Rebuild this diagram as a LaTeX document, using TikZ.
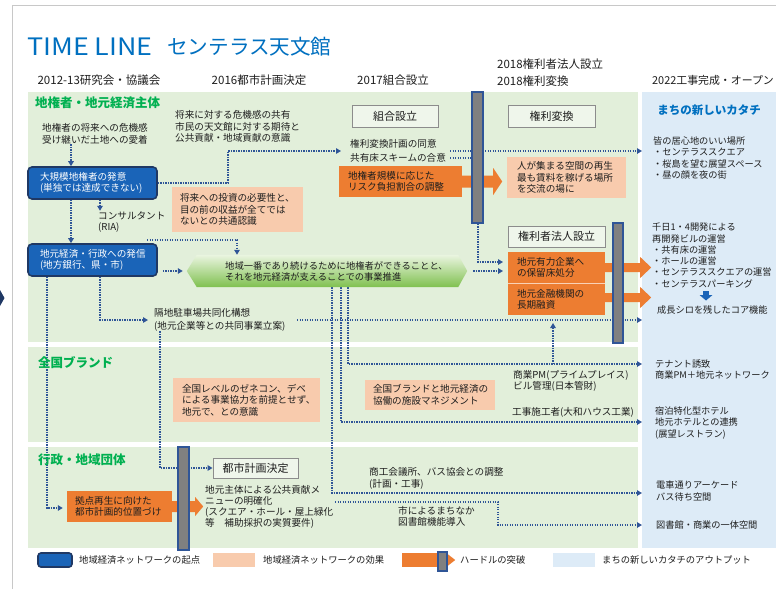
\documentclass[tikz,border=0pt]{standalone}
\usepackage{fontspec}
\setmainfont{Noto Sans CJK JP}
\usetikzlibrary{arrows.meta,calc}

\definecolor{titleblue}{HTML}{0070C0}
\definecolor{lblgreen}{HTML}{00B050}
\definecolor{bggreen}{HTML}{E2EFDA}
\definecolor{bgblue}{HTML}{DDEBF7}
\definecolor{salmon}{HTML}{F8CBAD}
\definecolor{orgC}{HTML}{ED7D31}
\definecolor{boxblue}{HTML}{1A64B8}
\definecolor{boxborder}{HTML}{1F3864}
\definecolor{dotblue}{HTML}{2F5597}
\definecolor{barfill}{HTML}{808080}
\definecolor{txtc}{HTML}{1E1E1E}
\definecolor{framegray}{HTML}{C8C8C8}
\definecolor{chevT}{HTML}{EAF5E0}
\definecolor{chevB}{HTML}{7FC04F}

\newcommand{\fsb}{\fontsize{9.6}{11.5}\selectfont}
\newcommand{\fsr}{\fontsize{9.2}{11.3}\selectfont}

\pgfdeclarelayer{back}
\pgfdeclarelayer{lines}
\pgfsetlayers{back,lines,main}

\begin{document}
\begin{tikzpicture}[x=1pt,y=-1pt,
  txt/.style={inner sep=0pt, anchor=west, align=left, font=\fsb, text=txtc},
  rtxt/.style={inner sep=0pt, anchor=west, align=left, font=\fsr, text=txtc},
  hdr/.style={inner sep=0pt, font=\fontsize{11.5}{17}\selectfont, text=txtc},
  bandlbl/.style={inner sep=0pt, anchor=west, font=\fontsize{12.5}{15}\selectfont\bfseries, text=lblgreen},
  bluebox/.style={draw=boxborder, line width=1.6pt, fill=boxblue, rounded corners=4pt, text=white, align=left, font=\fsb, inner ysep=0pt},
  salbox/.style={fill=salmon, align=left, font=\fsb, text=txtc, inner ysep=0pt},
  orgbox/.style={fill=orgC, align=left, font=\fsb, text=txtc, inner ysep=0pt},
  lblbox/.style={draw=gray!90, line width=0.9pt, fill=white!45!bggreen, font=\fontsize{11}{13}\selectfont, text=txtc, inner sep=0pt},
  hurdle/.style={draw=dotblue, line width=1.4pt, fill=barfill, inner sep=0pt},
  dotline/.style={draw=dotblue, line width=1.3pt, dash pattern=on 1.3pt off 1.2pt},
  dotarrow/.style={dotline, -{Triangle[length=5pt,width=5.5pt]}},
]
\useasboundingbox (0,0) rectangle (776,589);

\begin{pgfonlayer}{back}
\fill[white] (0,0) rectangle (776,589);
\draw[framegray, line width=1pt] (12.5,589) -- (12.5,5.5) -- (776,5.5);
\fill[bggreen] (28,92) rectangle (638,342);
\fill[bggreen] (28,347) rectangle (638,442);
\fill[bggreen] (28,447) rectangle (638,548);
\fill[bgblue] (642,92) rectangle (776,548);
\end{pgfonlayer}

\fill[boxborder] (0,290) -- (4.5,298) -- (0,306) -- cycle;

% title
\node[anchor=west, inner sep=0pt, text=titleblue, font=\fontsize{24}{26}\selectfont] (ttl1) at (27,47) {\scalebox{1.12}[1]{TIME LINE}};
\node[anchor=west, inner sep=0pt, text=titleblue, font=\fontsize{20.6}{24}\selectfont] (ttl2) at (167,47) {センテラス天文館};

% headers
\node[hdr] (h1) at (99,80) {2012-13研究会・協議会};
\node[hdr] (h2) at (259,80) {2016都市計画決定};
\node[hdr] (h3) at (393,80) {2017組合設立};
\node[hdr, anchor=west, align=left] (h4) at (497,72.5) {2018権利者法人設立\\2018権利変換};
\node[hdr, anchor=east, font=\fontsize{10.9}{13}\selectfont] (h5) at (774,80) {2022工事完成・オープン};

% band labels
\node[bandlbl] (L1) at (35,103) {地権者・地元経済主体};
\node[bandlbl] (L2) at (38,363) {全国ブランド};
\node[bandlbl] (L3) at (38,460) {行政・地域団体};
\node[inner sep=0pt, font=\fontsize{11.5}{14}\selectfont\bfseries, text=titleblue] (R0) at (709,110) {まちの新しいカタチ};

% chevron
\node[minimum width=261pt, minimum height=32pt, inner sep=0pt] (chev) at (327.5,271) {};
\path[top color=chevT, bottom color=chevB]
  ($(chev.west)+(-10,0)$) -- (chev.north west) -- (chev.north east) -- ($(chev.east)+(9,0)$) -- (chev.south east) -- (chev.south west) -- cycle;

% boxes
\node[bluebox, text width=105pt, inner xsep=12pt, minimum height=32pt] (b1) at (92.5,183) {大規模地権者の発意\\(単独では達成できない)};
\node[bluebox, text width=105pt, inner xsep=12pt, minimum height=32pt] (b2) at (92.5,260) {地元経済・行政への発信\\(地方銀行、県・市)};
\node[salbox, text width=115pt, inner xsep=8pt, minimum height=45pt] (s1) at (237.5,209.5) {将来への投資の必要性と、\\目の前の収益が全てでは\\ないとの共通認識};
\node[salbox, text width=99pt, inner xsep=10pt, minimum height=41pt] (s2) at (566.5,177.5) {人が集まる空間の再生\\最も賃料を稼げる場所\\を交流の場に};
\node[salbox, text width=129pt, inner xsep=9pt, minimum height=44pt] (s3) at (246.5,400) {全国レベルのゼネコン、デベ\\による事業協力を前提とせず、\\地元で、との意識};
\node[salbox, text width=114pt, inner xsep=8pt, minimum height=30pt] (s4) at (430,395) {全国ブランドと地元経済の\\協働の施設マネジメント};

\node[lblbox, minimum width=86pt, minimum height=22pt] (k1) at (395,116) {組合設立};
\node[lblbox, minimum width=87pt, minimum height=22pt] (k2) at (551.5,116) {権利変換};
\node[lblbox, minimum width=97pt, minimum height=21pt] (k3) at (556.5,236.5) {権利者法人設立};
\node[lblbox, minimum width=85pt, minimum height=20pt] (k4) at (255.5,468) {都市計画決定};

% text nodes
\node[txt] (t1) at (42,134) {地権者の将来への危機感\\受け継いだ土地への愛着};
\node[txt] (t2) at (175,126.5) {将来に対する危機感の共有\\市民の天文館に対する期待と\\公共貢献・地域貢献の意識};
\node[txt] (cons) at (98,222) {コンサルタント\\(RIA)};
\node[txt, font=\fontsize{9.6}{14}\selectfont] (t3) at (350,151) {権利変換計画の同意\\共有床スキームの合意};
\node[txt, font=\fontsize{9.3}{11}\selectfont] (chevt) at (225,271) {地域一番であり続けるために地権者ができることと、\\それを地元経済が支えることでの事業推進};
\node[txt, font=\fontsize{9.6}{12.5}\selectfont] (t9) at (154,320) {隔地駐車場共同化構想\\(地元企業等との共同事業立案)};
\node[txt] (t4) at (513,381) {商業PM(プライムプレイス)\\ビル管理(日本管財)};
\node[txt] (t5) at (512,412) {工事施工者(大和ハウス工業)};
\node[txt, font=\fontsize{9.6}{10.8}\selectfont] (t6) at (205,507) {地元主体による公共貢献メ\\ニューの明確化\\(スクエア・ホール・屋上緑化\\等　補助採択の実質要件)};
\node[txt] (t7) at (369,478.5) {商工会議所、バス協会との調整\\(計画・工事)};
\node[txt] (t8) at (398,516.5) {市によるまちなか\\図書館機能導入};

% right panel texts
\node[rtxt] (r1) at (653,158) {皆の居心地のいい場所\\・センテラススクエア\\・桜島を望む展望スペース\\・昼の顔を夜の街};
\node[rtxt] (r2) at (652,255.5) {千日1・4開発による\\再開発ビルの運営\\・共有床の運営\\・ホールの運営\\・センテラススクエアの運営\\・センテラスパーキング};
\node[rtxt] (r3) at (657,310) {成長シロを残したコア機能};
\node[rtxt] (r4) at (655,369.5) {テナント誘致\\商業PM＋地元ネットワーク};
\node[rtxt] (r5) at (655,423) {宿泊特化型ホテル\\地元ホテルとの連携\\(展望レストラン)};
\node[rtxt] (r6) at (656,491) {電車通りアーケード\\バス待ち空間};
\node[rtxt] (r7) at (656,525) {図書館・商業の一体空間};
\fill[boxblue] (703,291) rectangle (709,295);
\fill[boxblue] (699.5,295) -- (712.5,295) -- (706,300.5) -- cycle;

% orange boxes and arrows
\node[orgbox, text width=105pt, inner xsep=9pt, minimum height=31pt] (o1) at (400.5,181.5) {地権者規模に応じた\\リスク負担割合の調整};
\node[orgbox, text width=79pt, inner xsep=9pt, minimum height=31pt] (o2) at (556.5,267.5) {地元有力企業へ\\の保留床処分};
\node[orgbox, text width=79pt, inner xsep=9pt, minimum height=31pt] (o3) at (556.5,299.5) {地元金融機関の\\長期融資};
\draw[white!65!orgC, line width=0.6pt] (o2.south west) -- (o2.south east);
\node[orgbox, text width=89pt, inner xsep=8pt, minimum height=31pt] (o4) at (119.5,506.5) {拠点再生に向けた\\都市計画的位置づけ};

\fill[orgC] ($(o1.east)+(-1,-6)$) -- ++(32,0) -- ++(0,-7.5) -- ++(9,13.5) -- ++(-9,13.5) -- ++(0,-7.5) -- ++(-32,0) -- cycle;
\fill[orgC] ($(o2.east)+(-1,-4.5)$) -- ++(36,0) -- ++(0,-6) -- ++(11,10.5) -- ++(-11,10.5) -- ++(0,-6) -- ++(-36,0) -- cycle;
\fill[orgC] ($(o3.east)+(-1,-6.5)$) -- ++(36,0) -- ++(0,-6) -- ++(11,10.5) -- ++(-11,10.5) -- ++(0,-6) -- ++(-36,0) -- cycle;
\fill[orgC] ($(o4.east)+(-1,-5.5)$) -- ++(24,0) -- ++(0,-4) -- ++(8,9.5) -- ++(-8,9.5) -- ++(0,-4) -- ++(-24,0) -- cycle;

% hurdle bars
\node[hurdle, minimum width=11pt, minimum height=131pt] (bar1) at (477.5,157.5) {};
\node[hurdle, minimum width=10pt, minimum height=120pt] (bar2) at (618,283) {};
\node[hurdle, minimum width=11pt, minimum height=103pt] (bar3) at (183.5,498.5) {};

% coordinates
\coordinate (xA) at (71,0);
\coordinate (xB) at (100,0);
\coordinate (xC) at (47,0);
\coordinate (xE) at (237,0);
\coordinate (xF) at (160,0);
\coordinate (xG) at (332,0);
\coordinate (xH) at (341,0);
\coordinate (xI) at (348,0);
\coordinate (xL) at (478,0);
\coordinate (y8) at (0,508);
\coordinate (c5s) at (147,240);
\coordinate (c9s) at (297,320);
\coordinate (e9) at (642,320);
\coordinate (e11) at (642,493);
\coordinate (e12) at (642,422);
\coordinate (e13) at (642,364);
\coordinate (j14) at (553,364);
\coordinate (k14) at (553,323);
\coordinate (s15) at (335,502);
\coordinate (e15) at (642,525);
\coordinate (s16) at (450,151);
\coordinate (e16) at (642,151);
\coordinate (s17) at (450,158);
\coordinate (e18) at (503,262);
\coordinate (e19) at (503,271);

% connectors
\begin{pgfonlayer}{lines}
\draw[dotarrow] (t1.south -| xA) -- (b1.north -| xA);
\draw[dotarrow] (b1.east) -- (228,183) -- (228,151) -- ([xshift=-9pt]t3.west);
\draw[dotarrow] (b1.south -| xA) -- (b2.north -| xA);
\draw[dotarrow] (b1.south -| xB) -- ++(0,11);
\draw[dotarrow] (c5s) -| (chev.north -| xE);
\draw[dotarrow] ([xshift=5pt]b2.east |- chev.west) -- ([xshift=-14pt]chev.west);
\draw[dotarrow] (b2.south -| xB) |- ([xshift=-6pt]t9.west);
\draw[dotarrow] (b2.south -| xC) |- ([xshift=-4pt]o4.west |- y8);
\draw[dotarrow] (c9s) -- (e9);
\draw[dotarrow] (t9.south -| xF) |- (k4.west);
\draw[dotarrow] (chev.south -| xG) |- (e11);
\draw[dotarrow] (chev.south -| xH) |- (e12);
\draw[dotarrow] (chev.south -| xI) |- (e13);
\draw[dotarrow] (j14) -- (k14);
\draw[dotarrow] (s15) -- (498,502) -- (498,525) -- (e15);
\draw[dotarrow] (s16) -- (e16);
\draw[dotline] (s17) -- (bar1.west |- s17);
\draw[dotarrow] (bar1.south -| xL) |- (e18);
\draw[dotarrow] ([xshift=15pt]chev.east) -- (e19);
\end{pgfonlayer}

% legend
\node[draw=boxborder, line width=1.6pt, fill=boxblue, rounded corners=3pt, minimum width=34pt, minimum height=14pt, inner sep=0pt] (lg1) at (55,560) {};
\node[txt, font=\fontsize{9.3}{11}\selectfont] (lg1t) at (79,560) {地域経済ネットワークの起点};
\node[fill=salmon, minimum width=42pt, minimum height=14pt, inner sep=0pt] (lg2) at (234,560) {};
\node[txt, font=\fontsize{9.3}{11}\selectfont] (lg2t) at (263,560) {地域経済ネットワークの効果};
\node[fill=orgC, minimum width=38pt, minimum height=14pt, inner sep=0pt] (lg3) at (421,560) {};
\fill[orgC] ($(lg3.east)+(-1,-3)$) -- ++(9,0) -- ++(0,-2.5) -- ++(7,5.5) -- ++(-7,5.5) -- ++(0,-2.5) -- ++(-9,0) -- cycle;
\node[hurdle, line width=1.2pt, minimum width=9pt, minimum height=19pt] (lg3b) at (442.5,561.5) {};
\node[txt, font=\fontsize{9.3}{11}\selectfont] (lg3t) at (460,560) {ハードルの突破};
\node[fill=bgblue, minimum width=42pt, minimum height=14pt, inner sep=0pt] (lg4) at (574,560) {};
\node[txt, font=\fontsize{9.3}{11}\selectfont] (lg4t) at (602,560) {まちの新しいカタチのアウトプット};
\end{tikzpicture}
\end{document}
